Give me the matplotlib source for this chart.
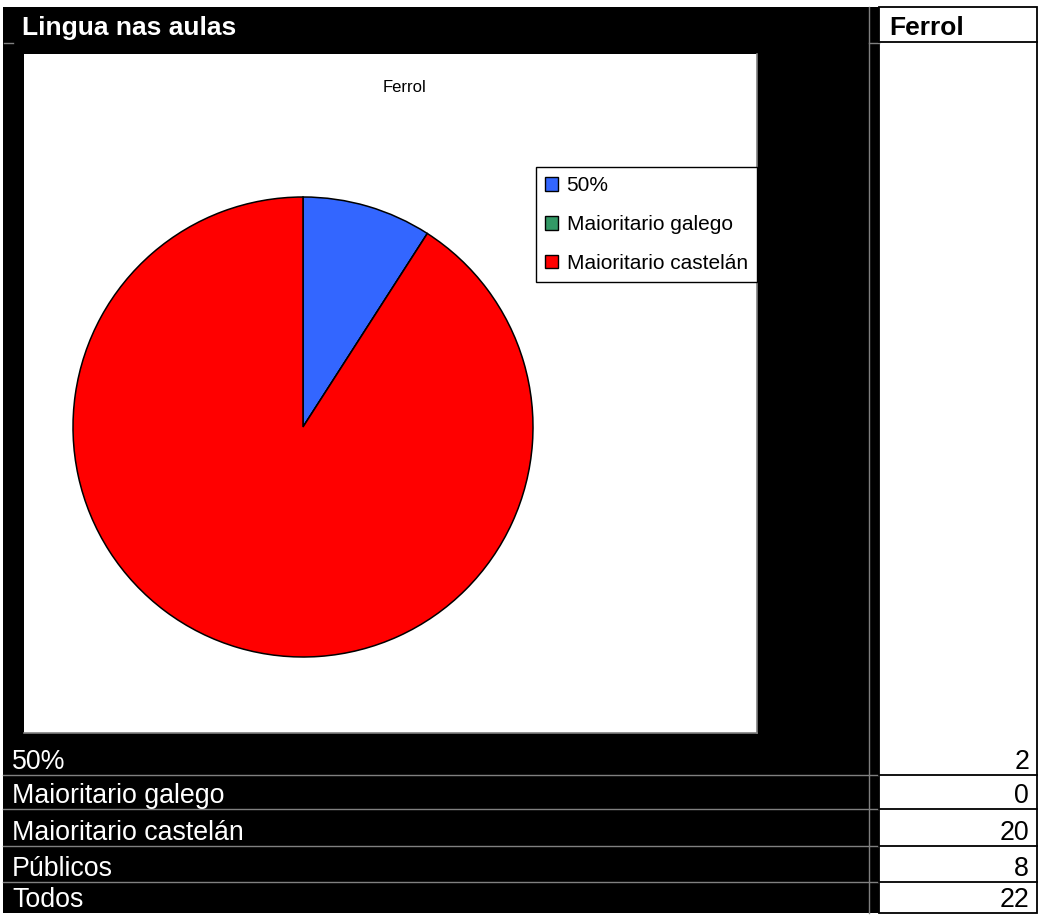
import matplotlib
matplotlib.use('Agg')
import matplotlib.pyplot as plt
from matplotlib.patches import Rectangle, Patch

plt.rcParams['font.family'] = ['Liberation Sans', 'DejaVu Sans']

# ---------------------------------------------------------------- data
header = 'Lingua nas aulas'
column = 'Ferrol'
chart_title = 'Ferrol'
categories = ['50%', 'Maioritario galego', 'Maioritario castelán']
counts = [2, 0, 20]
colours = ['#3366ff', '#339966', '#ff0000']
row_labels = categories + ['Públicos', 'Todos']
row_values = counts + [8, 22]

# ---------------------------------------------------------------- sheet
W, H = 1043, 918
fig = plt.figure(figsize=(W / 100, H / 100), dpi=100)
bg = fig.add_axes([0, 0, 1, 1])
bg.set_xlim(0, W)
bg.set_ylim(H, 0)
bg.axis('off')

grey = '#808080'
row_bottoms = [775, 809, 846, 882, 913]

bg.add_patch(Rectangle((3, 7), 876, 906, facecolor='black', edgecolor='none'))
bg.add_patch(Rectangle((879, 7), 158, 906, facecolor='white', edgecolor='black', lw=1.3))
bg.plot([869, 869], [7, 913], color=grey, lw=1)
bg.plot([4, 13], [43, 43], color=grey, lw=1)
bg.plot([869, 879], [43, 43], color=grey, lw=1)
bg.plot([879, 1037], [42, 42], color='black', lw=1.3)
for yb in row_bottoms[:-1]:
    bg.plot([3, 878], [yb, yb], color=grey, lw=1)
    bg.plot([879, 1037], [yb, yb], color='black', lw=1.3)

bg.text(22, 35, header, color='white', fontsize=19, fontweight='bold', va='baseline')
bg.text(889, 35, column, color='black', fontsize=19, fontweight='bold', va='baseline')

for lab, val, yb in zip(row_labels, row_values, row_bottoms):
    bg.text(12, yb - 6, lab, color='white', fontsize=19.3, va='baseline')
    bg.text(1029, yb - 6, str(val), color='black', fontsize=19.3, va='baseline', ha='right')

# chart area
bg.add_patch(Rectangle((24, 54), 733, 679, facecolor='white', edgecolor='none'))
bg.plot([757, 757], [54, 733], color=grey, lw=1.2)
bg.plot([24, 757], [733, 733], color=grey, lw=1.2)
bg.text(405, 87, chart_title, fontsize=12, ha='center', va='center')

# ---------------------------------------------------------------- pie
ax = fig.add_axes([73 / W, 1 - 657 / H, 460 / W, 460 / H])
wedges, _ = ax.pie(counts, colors=colours, startangle=90, counterclock=False,
                   wedgeprops=dict(edgecolor='black', linewidth=1.1))
for w in wedges:
    w.set_clip_on(False)
ax.set_xlim(-1, 1)
ax.set_ylim(-1, 1)
ax.axis('off')

handles = [Patch(facecolor=c, edgecolor='black', lw=1) for c in colours]
leg = fig.legend(handles, categories, loc='upper left',
                 bbox_to_anchor=(536 / W, 1 - 167 / H), borderaxespad=0,
                 frameon=True, fancybox=False, edgecolor='black', framealpha=1,
                 fontsize=15, handlelength=0.62, handleheight=0.62,
                 handletextpad=0.4, labelspacing=0.95, borderpad=0.45)
leg.get_frame().set_linewidth(1)

fig.savefig('out.png', dpi=100)
